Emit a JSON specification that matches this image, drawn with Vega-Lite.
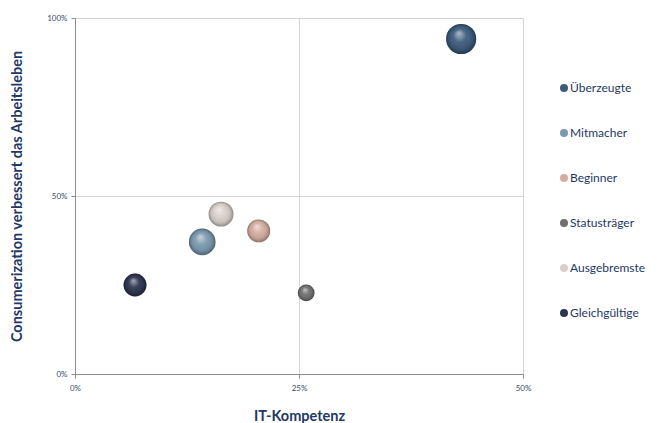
{
  "$schema": "https://vega.github.io/schema/vega-lite/v6.json",
  "autosize": {"type": "none"},
  "width": 448,
  "height": 356,
  "padding": {"left": 75, "top": 18, "right": 134, "bottom": 49},
  "background": "white",
  "config": {
    "font": "Lato",
    "view": {"stroke": null}
  },
  "data": {
    "values": [
      {"Gruppe": "Überzeugte", "IT": 0.431, "Cons": 0.941, "Anteil": 100},
      {"Gruppe": "Mitmacher", "IT": 0.142, "Cons": 0.371, "Anteil": 78},
      {"Gruppe": "Beginner", "IT": 0.205, "Cons": 0.402, "Anteil": 58},
      {"Gruppe": " Statusträger", "IT": 0.258, "Cons": 0.228, "Anteil": 31},
      {"Gruppe": " Ausgebremste", "IT": 0.163, "Cons": 0.449, "Anteil": 68},
      {"Gruppe": "Gleichgültige", "IT": 0.067, "Cons": 0.25, "Anteil": 58}
    ]
  },
  "encoding": {
    "x": {
      "field": "IT", "type": "quantitative",
      "scale": {"domain": [0, 0.5], "nice": false, "zero": true},
      "axis": {
        "title": "IT-Kompetenz", "values": [0, 0.25, 0.5], "format": ".0%", "labelFlush": false,
        "grid": true, "gridColor": "#d4d4d4", "domainColor": "#8a8f9a", "tickColor": "#8a8f9a",
        "tickSize": 4, "labelFontSize": 8, "labelColor": "#3b4a6b", "labelPadding": 6,
        "titleFontSize": 14.5, "titleFontWeight": "bold", "titleColor": "#1f3864", "titlePadding": 17
      }
    },
    "y": {
      "field": "Cons", "type": "quantitative",
      "scale": {"domain": [0, 1], "nice": false},
      "axis": {
        "title": "Consumerization verbessert das Arbeitsleben", "values": [0, 0.5, 1], "format": ".0%", "labelFlush": false,
        "grid": true, "gridColor": "#d4d4d4", "domainColor": "#8a8f9a", "tickColor": "#8a8f9a",
        "tickSize": 4, "labelFontSize": 8, "labelColor": "#3b4a6b", "labelPadding": 4,
        "titleFontSize": 14.5, "titleFontWeight": "bold", "titleColor": "#1f3864", "titlePadding": 22
      }
    },
    "size": {
      "field": "Anteil", "type": "quantitative",
      "scale": {"domain": [0, 100], "range": [0, 908], "zero": true},
      "legend": null
    }
  },
  "layer": [
    {
      "mark": {"type": "point", "filled": true, "opacity": 1, "shape": "circle"},
      "encoding": {
        "color": {
          "field": "Gruppe", "type": "nominal",
          "scale": {
            "domain": ["Überzeugte", "Mitmacher", "Beginner", " Statusträger", " Ausgebremste", "Gleichgültige"],
            "range": ["#3c5b7b", "#7b98ae", "#d4ada1", "#6f6f6f", "#d9d0cd", "#2c3550"]
          },
          "legend": {
            "title": null, "orient": "none", "legendX": 483, "legendY": 64,
            "symbolType": "circle", "symbolSize": 64, "symbolStrokeWidth": 0,
            "labelFontSize": 12, "labelColor": "#1f3864", "labelOffset": 0,
            "rowPadding": 33
          }
        }
      }
    },
    {
      "mark": {
        "type": "point", "filled": true, "opacity": 1, "shape": "circle",
        "fill": {"gradient": "radial", "x1": 0.42, "y1": 0.3, "r1": 0, "x2": 0.5, "y2": 0.5, "r2": 0.5,
          "stops": [
            {"offset": 0, "color": "rgba(255,255,255,0.6)"},
            {"offset": 0.45, "color": "rgba(255,255,255,0.05)"},
            {"offset": 0.8, "color": "rgba(0,0,0,0.1)"},
            {"offset": 1, "color": "rgba(0,0,0,0.35)"}
          ]}
      },
      "encoding": {}
    }
  ]
}
